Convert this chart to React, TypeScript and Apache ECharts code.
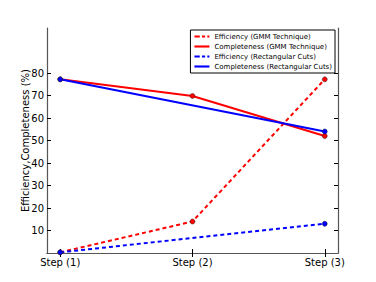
import React, { useEffect, useRef } from "react";
import * as echarts from "echarts";

const steps = [1, 2, 3];
const stepLabels = ["Step (1)", "Step (2)", "Step (3)"];
const effGMM = [0.3, 14, 77.2];
const compGMM = [77.2, 69.8, 52];
const effRect: (number | null)[] = [0.3, null, 13];
const compRect: (number | null)[] = [77.2, null, 54];
const yTicks = [10, 20, 30, 40, 50, 60, 70, 80];
const seriesNames = [
  "Efficiency (GMM Technique)",
  "Completeness (GMM Technique)",
  "Efficiency (Rectangular Cuts)",
  "Completeness (Rectangular Cuts)",
];

const dashIcon = "path://M0,0h5v2h-5z M7,0h3v2h-3z M12,0h2v2h-2z";
const solidIcon = "path://M0,0h14v2h-14z";

export default function App() {
  const ref = useRef<HTMLDivElement>(null);
  useEffect(() => {
    const chart = echarts.init(ref.current!, null, { renderer: "svg" });
    const font = "DejaVu Sans";
    const toData = (vals: (number | null)[]) =>
      steps.map((s, i) => [s, vals[i] === null ? null : vals[i]]);
    const mk = (name: string, vals: (number | null)[], color: string, dashed: boolean) => ({
      name,
      type: "line",
      data: toData(vals),
      connectNulls: true,
      symbol: "circle",
      symbolSize: 5,
      showSymbol: true,
      itemStyle: { color, borderColor: "#222", borderWidth: 0.5 },
      lineStyle: { color, width: 2, type: dashed ? [4, 3] : "solid" },
      z: 3,
    });
    const axisLine = { show: true, lineStyle: { color: "#555", width: 1.2 } };
    const legendItem = (name: string, icon: string, color: string) => ({
      name,
      icon,
      itemStyle: { color, borderWidth: 0, borderColor: color },
    });
    chart.setOption({
      animation: false,
      grid: { left: 47, right: 38, top: 28, bottom: 29 },
      legend: {
        orient: "vertical",
        right: 41,
        top: 30,
        itemWidth: 15,
        itemHeight: 3,
        itemGap: 3,
        padding: [3, 3, 3, 4],
        borderColor: "#000",
        borderWidth: 1,
        backgroundColor: "#fff",
        itemStyle: { borderWidth: 0 },
        textStyle: { fontFamily: font, fontSize: 7, color: "#000" },
        data: [
          legendItem(seriesNames[0], dashIcon, "#ff0000"),
          legendItem(seriesNames[1], solidIcon, "#ff0000"),
          legendItem(seriesNames[2], dashIcon, "#0000ff"),
          legendItem(seriesNames[3], solidIcon, "#0000ff"),
        ],
        z: 10,
      },
      xAxis: [
        {
          type: "value",
          min: 0.9,
          max: 3.1,
          axisLine,
          splitLine: { show: false },
          axisTick: { show: true, inside: true, length: 4, customValues: steps, lineStyle: { color: "#000" } },
          axisLabel: {
            customValues: steps,
            formatter: (v: number) => stepLabels[Math.round(v) - 1] ?? "",
            fontFamily: font,
            fontSize: 10,
            color: "#000",
            margin: 4,
          },
        },
        {
          type: "value",
          position: "top",
          min: 0.9,
          max: 3.1,
          axisLine,
          splitLine: { show: false },
          axisTick: { show: true, inside: true, length: 4, customValues: steps, lineStyle: { color: "#000" } },
          axisLabel: { show: false },
        },
      ],
      yAxis: [
        {
          type: "value",
          min: 0,
          max: 100,
          name: "Efficiency,Completeness (%)",
          nameLocation: "middle",
          nameGap: 17,
          nameMoveOverlap: false,
          nameTextStyle: { fontFamily: font, fontSize: 10, color: "#000" },
          axisLine,
          splitLine: { show: false },
          axisTick: { show: true, inside: true, length: 4, customValues: yTicks, lineStyle: { color: "#000" } },
          axisLabel: { customValues: yTicks, fontFamily: font, fontSize: 10, color: "#000", margin: 3 },
        },
        {
          type: "value",
          position: "right",
          min: 0,
          max: 100,
          axisLine,
          splitLine: { show: false },
          axisTick: { show: true, inside: true, length: 4, customValues: yTicks, lineStyle: { color: "#000" } },
          axisLabel: { show: false },
        },
      ],
      series: [
        mk(seriesNames[0], effGMM, "#ff0000", true),
        mk(seriesNames[1], compGMM, "#ff0000", false),
        mk(seriesNames[2], effRect, "#0000ff", true),
        mk(seriesNames[3], compRect, "#0000ff", false),
      ],
    });
    return () => chart.dispose();
  }, []);
  return (
    <div
      ref={ref}
      style={{ position: "fixed", left: 0, top: 0, width: 376, height: 282, background: "#fff" }}
    />
  );
}
